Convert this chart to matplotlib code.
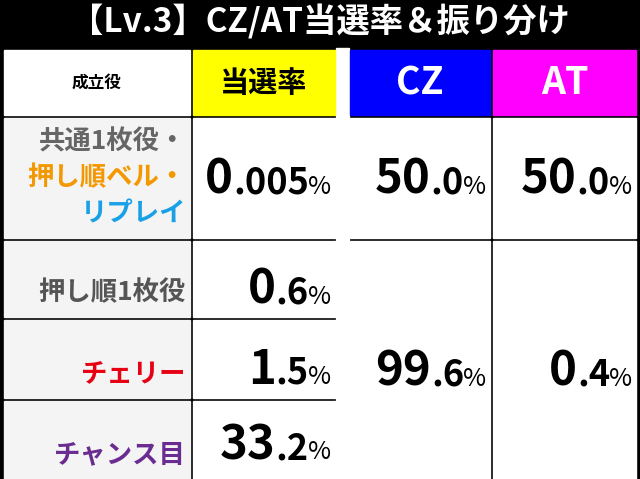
import matplotlib
matplotlib.use("Agg")
import matplotlib.pyplot as plt
from matplotlib.patches import Rectangle

plt.rcParams['font.family'] = ['Noto Sans CJK JP', 'DejaVu Sans']

title = "【Lv.3】CZ/AT当選率＆振り分け"
headers = ["成立役", "当選率", "CZ", "AT"]
role_lines = [[("共通1枚役・", "#666666"), ("押し順ベル・", "#f39800"), ("リプレイ", "#1aa0e6")],
              [("押し順1枚役", "#555555")],
              [("チェリー", "#e60012")],
              [("チャンス目", "#6a2c91")]]
rates = ["0.005", "0.6", "1.5", "33.2"]
cz = ["50.0", "99.6"]
at = ["50.0", "0.4"]

fig = plt.figure(figsize=(6.4, 4.79), dpi=100)
ax = fig.add_axes([0, 0, 1, 1])
ax.set_xlim(0, 640); ax.set_ylim(479, 0); ax.axis('off')
ax.add_patch(Rectangle((0, 0), 640, 479, color='black'))
ax.text(320, 22, title, color='white', fontsize=24, fontweight='bold', ha='center', va='center')
renderer = fig.canvas.get_renderer()

cols = [(4, 190), (193, 335), (350, 490), (493, 636)]
rows = [(50, 115), (118, 238), (241, 317), (320, 398), (401, 479)]
hdr_bg = ['white', '#ffff00', '#0000ff', '#ff00ff']
hdr_fg = ['black', 'black', 'white', 'white']
hdr_fs = [12, 21, 27, 27]
ax.add_patch(Rectangle((336, 48), 13, 431, color='white'))
for i, (x0, x1) in enumerate(cols):
    y0, y1 = rows[0]
    ax.add_patch(Rectangle((x0, y0), x1 - x0, y1 - y0, color=hdr_bg[i]))
    ax.text((x0 + x1) / 2, (y0 + y1) / 2, headers[i], color=hdr_fg[i], fontsize=hdr_fs[i],
            fontweight='bold', ha='center', va='center')

def num(xr, yr, val, y):
    x0, x1 = xr; y0, y1 = yr
    ax.add_patch(Rectangle((x0, y0), x1 - x0, y1 - y0, color='white'))
    ip, dp = val.split('.')
    ax.text(x1 - 4, y + 14, "%", fontsize=18, ha='right', va='baseline')
    t = ax.text(x1 - 26, y + 14, "." + dp, fontsize=26, fontweight='bold', ha='right', va='baseline')
    w = t.get_window_extent(renderer).width
    ax.text(x1 - 26 - w, y + 14, ip, fontsize=34, fontweight='bold', ha='right', va='baseline')

num_y = [180, 290, 370, 445]
for r in range(4):
    x0, x1 = cols[0]; y0, y1 = rows[r + 1]
    ax.add_patch(Rectangle((x0, y0), x1 - x0, y1 - y0, color='#f4f4f4'))
    lines = role_lines[r]
    n = len(lines)
    for k, (s, c) in enumerate(lines):
        y = (y0 + y1) / 2 + (k - (n - 1) / 2) * 36
        if r > 0:
            y = y1 - 24
        ax.text(x1 - 4, y, s, color=c, fontsize=19, fontweight='bold', ha='right', va='center')
    num(cols[1], rows[r + 1], rates[r], num_y[r])

num(cols[2], rows[1], cz[0], 180); num(cols[3], rows[1], at[0], 180)
num(cols[2], (rows[2][0], rows[4][1]), cz[1], 372); num(cols[3], (rows[2][0], rows[4][1]), at[1], 372)

fig.savefig("out.png", dpi=100)
